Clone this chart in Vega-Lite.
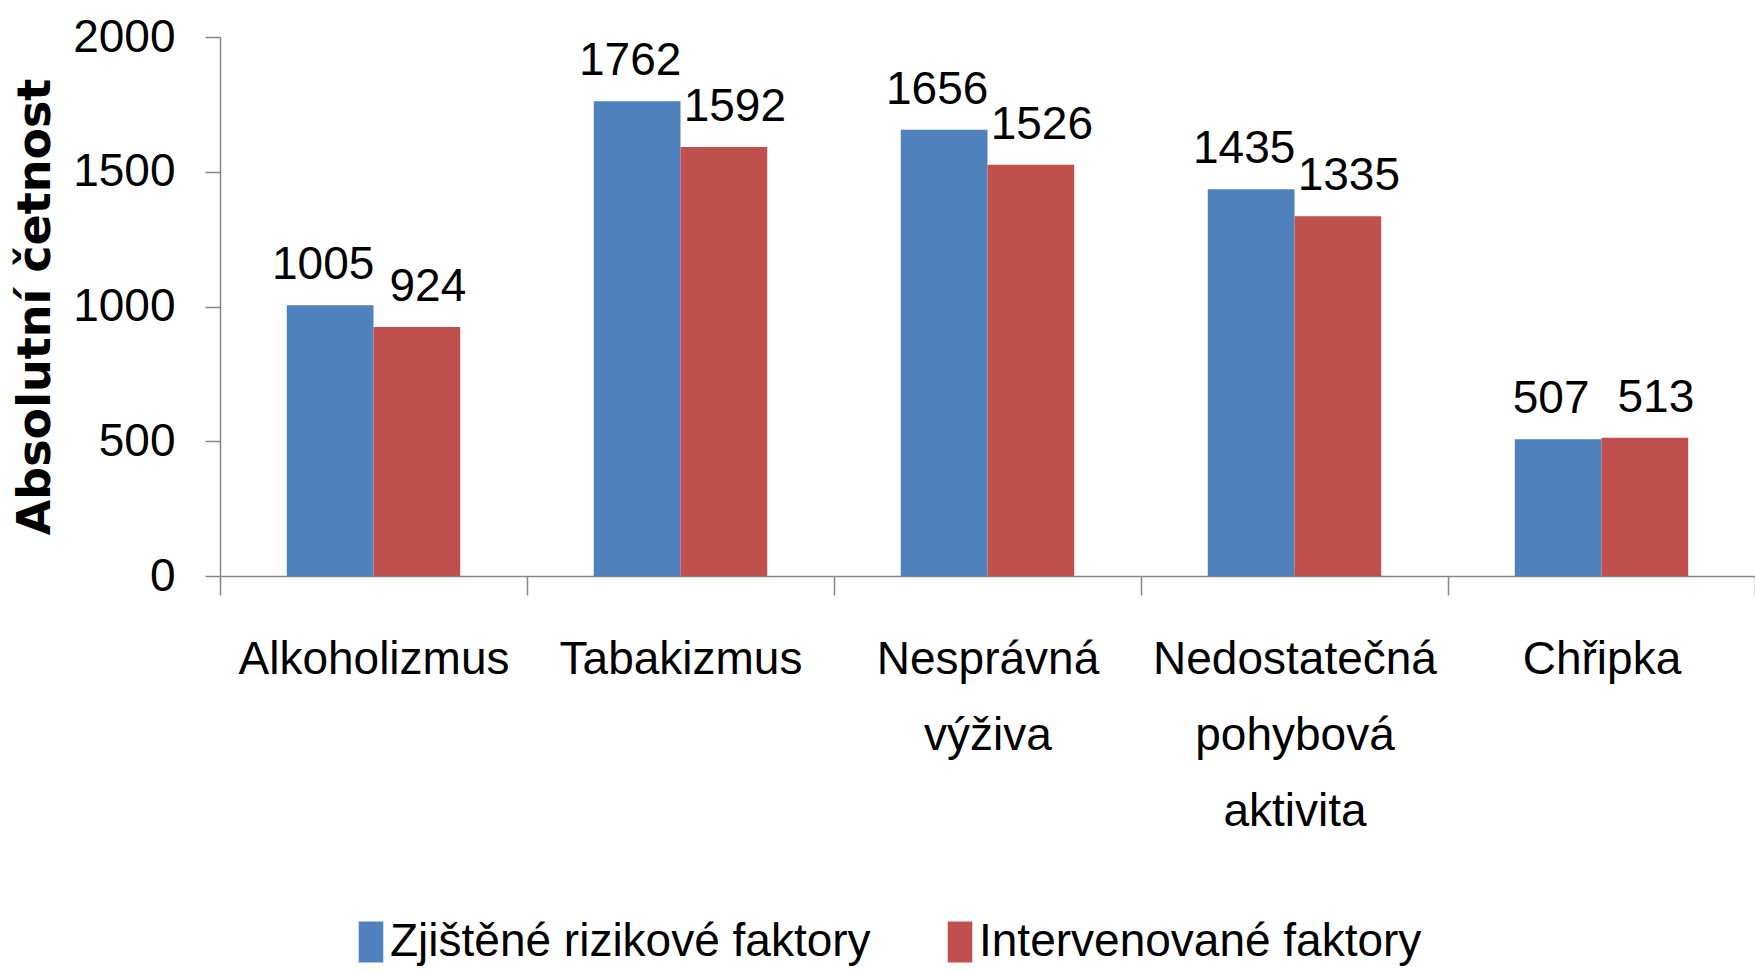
{
  "$schema": "https://vega.github.io/schema/vega-lite/v6.json",
  "width": 1535,
  "height": 539,
  "autosize": {"type": "none"},
  "padding": {"left": 220, "top": 37, "right": 0, "bottom": 394},
  "background": "white",
  "config": {
    "view": {"stroke": null},
    "font": "Liberation Sans",
    "axis": {"domainColor": "#868686", "tickColor": "#868686", "domainWidth": 1.5, "tickWidth": 1.5, "grid": false, "labelColor": "#000000", "labelFont": "Liberation Sans", "labelFontSize": 46}
  },
  "data": {
    "values": [
      {"cat": "Alkoholizmus", "series": "Zjištěné rizikové faktory", "value": 1005},
      {"cat": "Alkoholizmus", "series": "Intervenované faktory", "value": 924},
      {"cat": "Tabakizmus", "series": "Zjištěné rizikové faktory", "value": 1762},
      {"cat": "Tabakizmus", "series": "Intervenované faktory", "value": 1592},
      {"cat": "Nesprávná|výživa", "series": "Zjištěné rizikové faktory", "value": 1656},
      {"cat": "Nesprávná|výživa", "series": "Intervenované faktory", "value": 1526},
      {"cat": "Nedostatečná|pohybová|aktivita", "series": "Zjištěné rizikové faktory", "value": 1435},
      {"cat": "Nedostatečná|pohybová|aktivita", "series": "Intervenované faktory", "value": 1335},
      {"cat": "Chřipka", "series": "Zjištěné rizikové faktory", "value": 507},
      {"cat": "Chřipka", "series": "Intervenované faktory", "value": 513}
    ]
  },
  "encoding": {
    "x": {
      "field": "cat", "type": "nominal", "sort": null,
      "scale": {"paddingInner": 0, "paddingOuter": 0},
      "axis": {"title": null, "labelAngle": 0, "tickBand": "extent", "tickSize": 19, "labelPadding": 42, "labelLineHeight": 76, "labelLimit": 0, "labelExpr": "split(datum.label, '|')", "labelBaseline": "top"}
    },
    "xOffset": {"field": "series", "type": "nominal", "sort": ["Zjištěné rizikové faktory", "Intervenované faktory"], "scale": {"paddingInner": 0, "paddingOuter": 0.77}},
    "y": {
      "field": "value", "type": "quantitative",
      "scale": {"domain": [0, 2000], "nice": false},
      "axis": {"values": [0, 500, 1000, 1500, 2000], "format": "d", "tickSize": 15, "labelPadding": 30, "title": "Absolutní četnost", "titleFont": "DejaVu Sans", "titleFontWeight": "bold", "titleFontSize": 46, "titleColor": "#000000", "titlePadding": 13}
    }
  },
  "layer": [
    {
      "mark": {"type": "bar"},
      "encoding": {
        "color": {
          "field": "series", "type": "nominal",
          "sort": ["Zjištěné rizikové faktory", "Intervenované faktory"],
          "scale": {"domain": ["Zjištěné rizikové faktory", "Intervenované faktory"], "range": ["#4F81BD", "#C0504D"]},
          "legend": {"title": null, "orient": "none", "direction": "horizontal", "legendX": 128, "legendY": 882, "padding": 0, "symbolType": "M-0.6,-1H0.6V1H-0.6Z", "symbolSize": 1681, "symbolStrokeWidth": 0, "symbolOpacity": 1, "labelFont": "Liberation Sans", "labelFontSize": 46, "labelColor": "#000000", "labelOffset": -4, "columnPadding": 66, "labelLimit": 0}
        }
      }
    },
    {
      "transform": [{"filter": "datum.series === 'Zjištěné rizikové faktory'"}],
      "mark": {"type": "text", "baseline": "alphabetic", "dy": -26, "dx": -7, "fontSize": 46, "font": "Liberation Sans", "color": "#000000"},
      "encoding": {"text": {"field": "value", "type": "quantitative"}}
    },
    {
      "transform": [{"filter": "datum.series === 'Intervenované faktory'"}],
      "mark": {"type": "text", "baseline": "alphabetic", "dy": -26, "dx": 11, "fontSize": 46, "font": "Liberation Sans", "color": "#000000"},
      "encoding": {"text": {"field": "value", "type": "quantitative"}}
    }
  ]
}
